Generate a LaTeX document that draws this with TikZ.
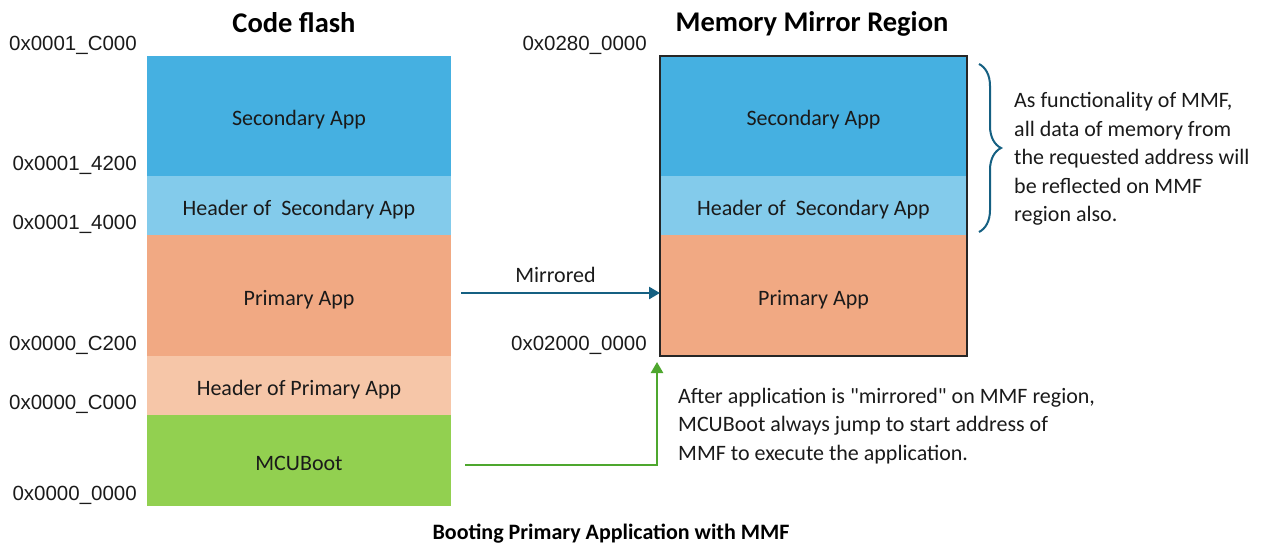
\documentclass[tikz,border=0pt]{standalone}
\usepackage{fontspec}
\setmainfont{Carlito}[Ligatures=TeXOff]
\newfontfamily\addrfont{Liberation Sans}
\usepackage{tikz}
\usetikzlibrary{arrows.meta, positioning, decorations.pathreplacing, calc}

\definecolor{secblue}{HTML}{45B0E1}
\definecolor{hdrblue}{HTML}{83CBEB}
\definecolor{priorange}{HTML}{F1A983}
\definecolor{hdrorange}{HTML}{F6C6A8}
\definecolor{bootgreen}{HTML}{92D050}
\definecolor{mirrorblue}{HTML}{156082}
\definecolor{jumpgreen}{HTML}{4EA72E}
\definecolor{inktext}{HTML}{1A1A1A}

\tikzset{
    block/.style={rectangle, inner sep=0pt, outer sep=0pt, minimum width=304pt, text height=19.5pt, text depth=0pt, text=inktext, font=\fontsize{22}{26}\selectfont},
    addr/.style={anchor=east, inner sep=0pt, text=inktext, font=\addrfont\fontsize{20.5}{24}\selectfont},
    heading/.style={inner sep=0pt, text=black, font=\bfseries\fontsize{28.5}{32}\selectfont},
    note/.style={anchor=west, inner sep=0pt, align=left, text=inktext, font=\fontsize{22}{28.6}\selectfont},
    tip/.style={-{Triangle[length=11pt,width=12pt]}, line width=2.5pt}
}

\begin{document}
\begin{tikzpicture}[x=1pt, y=-1pt]
        \useasboundingbox (0,0) rectangle (1271,549);
        % code flash column
        \node[block, fill=secblue, minimum height=120pt] (secL) at (299,116) {Secondary App};
        \node[block, fill=hdrblue, minimum height=59pt, below=0pt of secL] (hsecL) {Header of ~Secondary App};
        \node[block, fill=priorange, minimum height=121pt, below=0pt of hsecL] (priL) {Primary App};
        \node[block, fill=hdrorange, minimum height=59pt, below=0pt of priL] (hpriL) {Header of Primary App};
        \node[block, fill=bootgreen, minimum height=91pt, below=0pt of hpriL] (boot) {MCUBoot};
        \foreach \anc/\lab [count=\i] in {secL.north west/0x0001\_C000, secL.south west/0x0001\_4200, hsecL.south west/0x0001\_4000, priL.south west/0x0000\_C200, hpriL.south west/0x0000\_C000, boot.south west/0x0000\_0000}
            \node[addr] (addrL\i) at ([xshift=-10pt,yshift=11pt]\anc) {\lab};
        \node[heading] (flashtitle) at (294,23) {Code flash};

        % memory mirror region
        \node[block, fill=secblue, minimum width=307pt, minimum height=120pt] (secR) at (813.5,116) {Secondary App};
        \node[block, fill=hdrblue, minimum width=307pt, minimum height=59pt, below=0pt of secR] (hsecR) {Header of ~Secondary App};
        \node[block, fill=priorange, minimum width=307pt, minimum height=121pt, below=0pt of hsecR] (priR) {Primary App};
        \draw[line width=1.8pt, black!85] (secR.north west) rectangle (priR.south east);
        \node[addr] (addrR1) at ([xshift=-13pt,yshift=11pt]secR.north west) {0x0280\_0000};
        \node[addr] (addrR2) at ([xshift=-13pt,yshift=11pt]priR.south west) {0x02000\_0000};
        \node[heading] (mmftitle) at (812,24) {Memory Mirror Region};

        % connectors
        \draw[tip, mirrorblue, shorten <=10pt] ([yshift=2.5pt]priL.east) -- ([yshift=2.5pt]priR.west)
            node[midway, above=6pt, text=inktext, font=\fontsize{22}{26}\selectfont] (mirrlabel) {Mirrored};
        \draw[tip, jumpgreen, shorten <=14pt] ([yshift=-4.5pt]boot.east) -| ([xshift=-3pt,yshift=-6pt]priR.south west);

        \coordinate (braceTop) at ([xshift=12pt,yshift=-8pt]secR.north east);
        \coordinate (braceBot) at ([xshift=12pt,yshift=3pt]hsecR.south east);
        \draw[mirrorblue, line width=2pt, decorate, decoration={brace, amplitude=22pt}] (braceTop) -- (braceBot);

        \node[note] (mmfnote) at (1014,159) {As functionality of MMF,\\all data of memory from\\the requested address will\\be reflected on MMF\\region also.};
        \node[note] (jumpnote) at (678,426) {After application is "mirrored" on MMF region,\\MCUBoot always jump to start address of\\MMF to execute the application.};
        \node[heading, font=\bfseries\fontsize{22}{26}\selectfont] (caption) at (611,534) {Booting Primary Application with MMF};
    \end{tikzpicture}
\end{document}
